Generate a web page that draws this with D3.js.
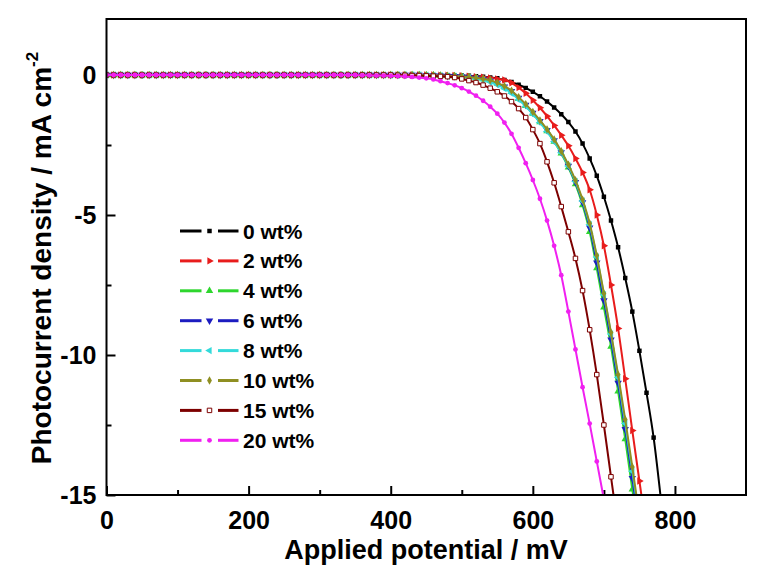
<!DOCTYPE html>
<html>
<head>
<meta charset="utf-8">
<script src="https://cdn.jsdelivr.net/npm/d3@7"></script>
<style>
  body { margin: 0; background: #fff; }
  svg { display: block; }
  text { font-family: "Liberation Sans", Arial, sans-serif; font-weight: bold; fill: #000; }
</style>
</head>
<body>
<svg id="chart" width="766" height="570"></svg>
<script>
// Applied potential grid (mV), shared by every J–V curve
const potential = [
  0,10,20,30,40,50,60,70,80,90,100,110,120,130,140,150,160,170,180,190,
  200,210,220,230,240,250,260,270,280,290,300,310,320,330,340,350,360,370,380,390,
  400,410,420,430,440,450,460,470,480,490,500,510,520,530,540,550,560,570,580,590,
  600,610,620,630,640,650,660,670,680,690,700,710,720,730,740,750,760,770,780
];

// Photocurrent density (mA cm^-2) at each potential above
const j0 = [
  0,0,0,0,0,0,0,0,0,0,0,0,0,0,0,0,0,0,0,0,0,0,0,0,0,0,0,0,0,0,0,0,0,0,0,0,0,0,0,0,0,0,0,0,0,
  0,-0.01,-0.01,-0.01,-0.02,-0.02,-0.03,-0.04,-0.06,-0.09,-0.12,-0.18,-0.25,-0.35,-0.46,-0.6,
  -0.76,-0.95,-1.16,-1.4,-1.68,-2.02,-2.45,-2.98,-3.6,-4.35,-5.2,-6.15,-7.25,-8.45,-9.85,
  -11.35,-12.95,-15.1
];
const j2 = [
  0,0,0,0,0,0,0,0,0,0,0,0,0,0,0,0,0,0,0,0,0,0,0,0,0,0,0,0,0,0,0,0,0,0,0,0,0,0,0,0,0,0,0,0,0,
  0,0,-0.01,-0.01,-0.02,-0.03,-0.04,-0.06,-0.08,-0.11,-0.14,-0.18,-0.28,-0.45,-0.65,-0.9,
  -1.17,-1.47,-1.8,-2.15,-2.53,-2.98,-3.48,-4.1,-5.0,-6.1,-7.5,-9.05,-10.85,-12.7,-14.5,-16.3
];
const j4 = [
  0,0,0,0,0,0,0,0,0,0,0,0,0,0,0,0,0,0,0,0,0,0,0,0,0,0,0,0,0,0,0,0,0,0,0,0,0,0,0,0,0,0,0,0,0,
  -0.01,-0.01,-0.02,-0.03,-0.04,-0.06,-0.08,-0.11,-0.15,-0.2,-0.3,-0.43,-0.6,-0.85,-1.1,-1.38,
  -1.68,-2.0,-2.38,-2.8,-3.3,-3.9,-4.65,-5.6,-6.9,-8.3,-9.7,-11.3,-13.0,-14.8,-16.6
];
const j6 = [
  0,0,0,0,0,0,0,0,0,0,0,0,0,0,0,0,0,0,0,0,0,0,0,0,0,0,0,0,0,0,0,0,0,0,0,0,0,0,0,0,0,0,0,0,0,
  -0.01,-0.01,-0.02,-0.03,-0.04,-0.06,-0.08,-0.11,-0.15,-0.21,-0.3,-0.42,-0.58,-0.82,-1.07,-1.35,
  -1.65,-1.97,-2.34,-2.76,-3.25,-3.83,-4.55,-5.45,-6.7,-8.05,-9.45,-11.0,-12.65,-14.4,-16.2
];
const j8 = [
  0,0,0,0,0,0,0,0,0,0,0,0,0,0,0,0,0,0,0,0,0,0,0,0,0,0,0,0,0,0,0,0,0,0,0,0,0,0,0,0,0,0,0,0,0,
  -0.01,-0.02,-0.03,-0.04,-0.05,-0.07,-0.1,-0.13,-0.18,-0.25,-0.35,-0.48,-0.65,-0.88,-1.12,-1.4,
  -1.7,-2.02,-2.38,-2.78,-3.25,-3.8,-4.5,-5.35,-6.5,-7.85,-9.25,-10.8,-12.45,-14.15,-15.9
];
const j10 = [
  0,0,0,0,0,0,0,0,0,0,0,0,0,0,0,0,0,0,0,0,0,0,0,0,0,0,0,0,0,0,0,0,0,0,0,0,0,0,0,0,0,0,0,0,0,
  -0.01,-0.01,-0.02,-0.03,-0.04,-0.05,-0.07,-0.1,-0.14,-0.19,-0.28,-0.4,-0.56,-0.79,-1.04,-1.32,
  -1.62,-1.94,-2.3,-2.72,-3.2,-3.76,-4.45,-5.3,-6.45,-7.8,-9.2,-10.7,-12.3,-14.0,-15.75
];
const j15 = [
  0,0,0,0,0,0,0,0,0,0,0,0,0,0,0,0,0,0,0,0,0,0,0,0,0,0,0,0,0,0,0,0,0,0,0,0,0,0,0,0,0,
  -0.01,-0.01,-0.02,-0.02,-0.03,-0.04,-0.05,-0.06,-0.09,-0.14,-0.2,-0.27,-0.36,-0.47,-0.6,
  -0.75,-0.95,-1.2,-1.52,-1.95,-2.45,-3.1,-3.85,-4.7,-5.6,-6.55,-7.7,-9.1,-10.7,-12.5,-14.35,-16.2
];
const j20 = [
  0,0,0,0,0,0,0,0,0,0,0,0,0,0,0,0,0,0,0,0,0,0,0,0,0,0,0,0,0,0,0,0,0,0,0,0,
  -0.01,-0.01,-0.02,-0.02,-0.03,-0.04,-0.05,-0.07,-0.09,-0.12,-0.16,-0.22,-0.29,-0.37,-0.47,
  -0.59,-0.74,-0.92,-1.13,-1.38,-1.7,-2.1,-2.6,-3.15,-3.75,-4.42,-5.2,-6.1,-7.15,-8.45,-9.8,
  -11.15,-12.45,-13.8,-15.15,-16.5
];

const seriesNames = ["0 wt%", "2 wt%", "4 wt%", "6 wt%", "8 wt%", "10 wt%", "15 wt%", "20 wt%"];
const seriesValues = [j0, j2, j4, j6, j8, j10, j15, j20];

const xMajorTicks = [0, 200, 400, 600, 800];
const xMinorTicks = [100, 300, 500, 700];
const yMajorTicks = [0, -5, -10, -15];
const yMinorTicks = [-2.5, -7.5, -12.5];

// Appearance of each curve: colour, marker shape, marker rotation, hollow marker
const styles = [
  { color: "#000000", shape: d3.symbolSquare,   rot: 0,   size: 20, hollow: false },
  { color: "#e81c1c", shape: d3.symbolTriangle, rot: 90,  size: 24, hollow: false },
  { color: "#2ed62e", shape: d3.symbolTriangle, rot: 0,   size: 24, hollow: false },
  { color: "#1c1cc0", shape: d3.symbolTriangle, rot: 180, size: 24, hollow: false },
  { color: "#33dada", shape: d3.symbolTriangle, rot: -90, size: 24, hollow: false },
  { color: "#8f8f22", shape: d3.symbolDiamond,  rot: 0,   size: 20, hollow: false },
  { color: "#7d0000", shape: d3.symbolSquare,   rot: 0,   size: 20, hollow: true  },
  { color: "#f020f0", shape: d3.symbolCircle,   rot: 0,   size: 18, hollow: false }
];

const svg = d3.select("#chart");
const plotL = 106.5, plotR = 746, plotT = 19, plotB = 495;

const x = d3.scaleLinear().domain([0, 900]).range([plotL, plotR]);
const y = d3.scaleLinear().domain([-15, 2]).range([plotB, plotT]);

svg.append("defs").append("clipPath").attr("id", "plot-clip")
  .append("rect").attr("x", plotL).attr("y", plotT)
  .attr("width", plotR - plotL).attr("height", plotB - plotT);

// Axes with inward ticks
const fmt = d => String(d);
const xAxis = svg.append("g").attr("transform", `translate(0,${plotB})`)
  .call(d3.axisBottom(x).tickValues(xMajorTicks).tickFormat(fmt)
    .tickSizeInner(-9).tickSizeOuter(0).tickPadding(16));
svg.append("g").attr("transform", `translate(0,${plotB})`)
  .call(d3.axisBottom(x).tickValues(xMinorTicks).tickFormat("")
    .tickSizeInner(-5).tickSizeOuter(0));
svg.append("g").attr("transform", `translate(${plotL},0)`)
  .call(d3.axisLeft(y).tickValues(yMajorTicks).tickFormat(fmt)
    .tickSizeInner(-9).tickSizeOuter(0).tickPadding(10));
svg.append("g").attr("transform", `translate(${plotL},0)`)
  .call(d3.axisLeft(y).tickValues(yMinorTicks).tickFormat("")
    .tickSizeInner(-5).tickSizeOuter(0));

svg.selectAll(".domain").remove();
svg.selectAll(".tick line").attr("stroke", "#000").attr("stroke-width", 2);
svg.selectAll(".tick text").style("font-size", "25px").attr("font-family", null);
xAxis.selectAll(".tick text").attr("dy", "0.71em");

// Curves
const plot = svg.append("g").attr("clip-path", "url(#plot-clip)");
const line = d3.line().x(d => x(d.v)).y(d => y(d.j)).curve(d3.curveMonotoneX);

seriesValues.forEach((vals, i) => {
  const st = styles[i];
  const pts = vals.map((j, k) => ({ v: potential[k], j }));
  const g = plot.append("g");
  g.append("path").datum(pts)
    .attr("d", line)
    .attr("fill", "none")
    .attr("stroke", st.color)
    .attr("stroke-width", 2);
  const sym = d3.symbol().type(st.shape).size(st.size);
  g.selectAll("path.m").data(pts.filter(d => d.j >= -15.5))
    .join("path").attr("class", "m")
    .attr("d", sym)
    .attr("transform", d => `translate(${x(d.v)},${y(d.j)}) rotate(${st.rot})`)
    .attr("fill", st.hollow ? "#fff" : st.color)
    .attr("stroke", st.hollow ? st.color : "none")
    .attr("stroke-width", 1);
});

// Frame
svg.append("rect").attr("x", plotL).attr("y", plotT)
  .attr("width", plotR - plotL).attr("height", plotB - plotT)
  .attr("fill", "none").attr("stroke", "#000").attr("stroke-width", 2);

// Legend
const legend = svg.append("g");
seriesNames.forEach((name, i) => {
  const st = styles[i];
  const cy = 231 + i * 29.9;
  legend.append("line").attr("x1", 180).attr("x2", 201.5).attr("y1", cy).attr("y2", cy)
    .attr("stroke", st.color).attr("stroke-width", 3);
  legend.append("line").attr("x1", 218).attr("x2", 238.5).attr("y1", cy).attr("y2", cy)
    .attr("stroke", st.color).attr("stroke-width", 3);
  legend.append("path")
    .attr("d", d3.symbol().type(st.shape).size(st.size)())
    .attr("transform", `translate(209.5,${cy}) rotate(${st.rot})`)
    .attr("fill", st.hollow ? "#fff" : st.color)
    .attr("stroke", st.hollow ? st.color : "none");
  legend.append("text").attr("x", 243).attr("y", cy + 7.5)
    .style("font-size", "21px").text(name);
});

// Axis titles
svg.append("text").attr("x", 426).attr("y", 559)
  .attr("text-anchor", "middle").style("font-size", "27px")
  .text("Applied potential / mV");

const yt = svg.append("text")
  .attr("transform", "translate(51,258) rotate(-90)")
  .attr("text-anchor", "middle").style("font-size", "28px");
yt.append("tspan").text("Photocurrent density / mA cm");
yt.append("tspan").attr("dy", -13).style("font-size", "17px").text("-2");
</script>
</body>
</html>
